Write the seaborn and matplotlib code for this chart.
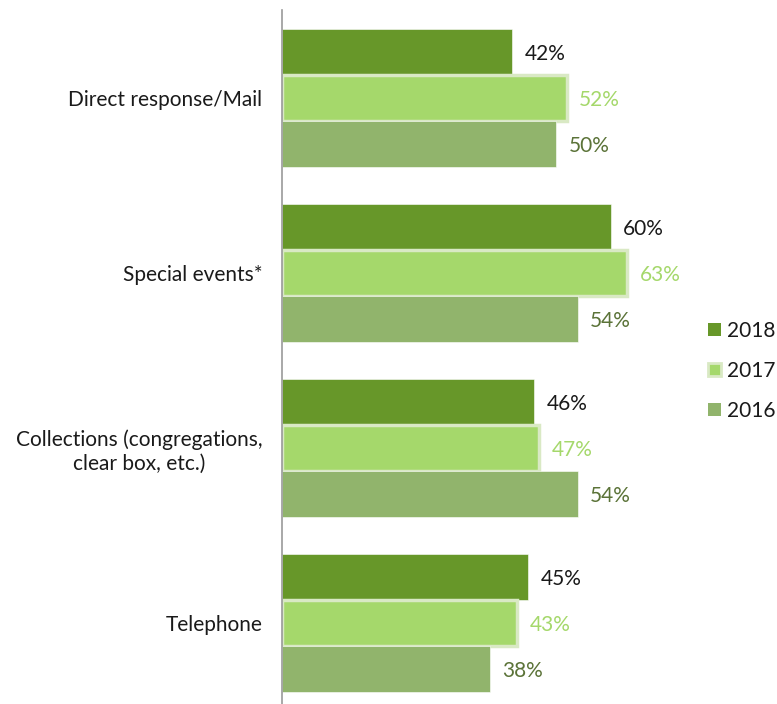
import matplotlib
matplotlib.use("Agg")
import matplotlib.pyplot as plt
from matplotlib.patches import Patch
import seaborn as sns
import pandas as pd

categories = ["Direct response/Mail", "Special events*",
              "Collections (congregations,\nclear box, etc.)", "Telephone"]
years = ["2018", "2017", "2016"]
vals_2018 = [42, 60, 46, 45]
vals_2017 = [52, 63, 47, 43]
vals_2016 = [50, 54, 54, 38]

fill_colors = {"2018": "#679729", "2017": "#a5d86b", "2016": "#91b46c"}
text_colors = {"2018": "#1a1a1a", "2017": "#a5d86b", "2016": "#5b7338"}
edge_2017 = "#d9e9c4"

rows = []
for yr, vals in zip(years, [vals_2018, vals_2017, vals_2016]):
    for cat, v in zip(categories, vals):
        rows.append({"Category": cat, "Year": yr, "Value": v})
df = pd.DataFrame(rows)

sns.set_theme(style="white")
plt.rcParams["font.family"] = ["Lato", "DejaVu Sans"]

fig = plt.figure(figsize=(7.77, 7.04), dpi=100)
ax = fig.add_axes([282 / 777, 0.0, 408 / 777, 694 / 704])

sns.barplot(data=df, y="Category", x="Value", hue="Year", hue_order=years,
            order=categories, palette=fill_colors, orient="h", width=0.79,
            dodge=True, ax=ax, legend=False, saturation=1)

for yr, cont in zip(years, ax.containers):
    for bar in cont:
        if yr == "2017":
            bar.set_edgecolor(edge_2017)
            bar.set_linewidth(2.5)
        else:
            bar.set_edgecolor("#ffffff")
            bar.set_linewidth(0.4)
    labels = ax.bar_label(cont, labels=[f"{int(v)}%" for v in cont.datavalues],
                          padding=9, color=text_colors[yr], fontsize=15)
    for t in labels:
        t.set_y(t.get_position()[1])
        t.set_va("center_baseline")

ax.set_xlim(0, 74.5)
ax.set_ylim(3.463, -0.503)
ax.set_xlabel("")
ax.set_ylabel("")
ax.set_xticks([])
ax.tick_params(axis="y", length=0, pad=14, labelsize=15, labelcolor="#1a1a1a")
for lbl in ax.get_yticklabels():
    lbl.set_multialignment("center")
for side in ["top", "right", "bottom"]:
    ax.spines[side].set_visible(False)
ax.spines["left"].set_color("#999999")
ax.spines["left"].set_linewidth(1.2)

handles = [Patch(facecolor=fill_colors["2018"], edgecolor="none"),
           Patch(facecolor=fill_colors["2017"], edgecolor=edge_2017, linewidth=2),
           Patch(facecolor=fill_colors["2016"], edgecolor="none")]
fig.legend(handles, years, loc="center left", bbox_to_anchor=(708 / 777, 1 - 371 / 704),
           frameon=False, fontsize=15, handlelength=0.6, handleheight=0.6,
           handletextpad=0.3, labelspacing=0.95, labelcolor="#1a1a1a",
           borderpad=0, borderaxespad=0)

fig.savefig("out.png", dpi=100)
